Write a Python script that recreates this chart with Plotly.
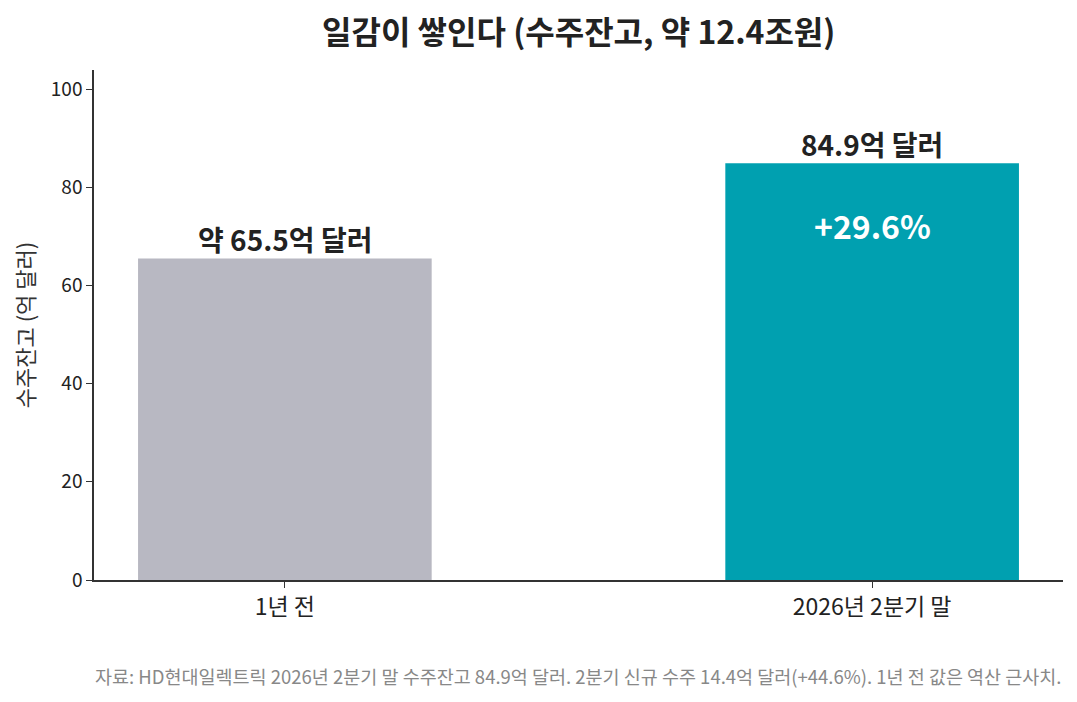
import plotly.graph_objects as go

categories = ["1년 전", "2026년 2분기 말"]
backlog = [65.5, 84.9]
bar_labels = ["약 65.5억 달러", "84.9억 달러"]
growth_label = "+29.6%"
y_ticks = [0, 20, 40, 60, 80, 100]

title = "일감이 쌓인다 (수주잔고, 약 12.4조원)"
y_title = "수주잔고 (억 달러)"
source = "자료: HD현대일렉트릭 2026년 2분기 말 수주잔고 84.9억 달러. 2분기 신규 수주 14.4억 달러(+44.6%). 1년 전 값은 역산 근사치."

FONT = "Noto Sans CJK KR"

fig = go.Figure()

fig.add_trace(
    go.Bar(
        x=categories,
        y=backlog,
        width=0.5,
        marker=dict(color=["#b8b8c2", "#00a0b0"], line=dict(width=0)),
        hoverinfo="skip",
    )
)

# value labels just above each bar
for cat, val, lab in zip(categories, backlog, bar_labels):
    fig.add_annotation(
        x=cat,
        y=val,
        yanchor="bottom",
        yshift=-3,
        text=f"<b>{lab}</b>",
        showarrow=False,
        font=dict(family=FONT, size=28, color="#222222"),
    )

# growth label inside the latest bar
fig.add_annotation(
    x=categories[1],
    y=backlog[1] - 12.6,
    text=f"<b>{growth_label}</b>",
    showarrow=False,
    font=dict(family=FONT, size=32, color="white"),
)

# title, centred over the plot area
fig.add_annotation(
    x=0.5,
    y=1.0,
    xref="paper",
    yref="paper",
    xanchor="center",
    yanchor="middle",
    yshift=40,
    text=f"<b>{title}</b>",
    showarrow=False,
    font=dict(family=FONT, size=32, color="#222222"),
)

fig.add_annotation(
    x=1.0,
    y=-0.188,
    xref="paper",
    yref="paper",
    xanchor="right",
    yanchor="middle",
    text=source,
    showarrow=False,
    font=dict(family=FONT, size=18.5, color="#888888"),
)

fig.update_layout(
    width=1077,
    height=702,
    margin=dict(l=86, r=22, t=62, b=130),
    paper_bgcolor="white",
    plot_bgcolor="white",
    showlegend=False,
    font=dict(family=FONT, color="#222222"),
)

fig.update_xaxes(
    range=[-0.325, 1.325],
    showline=True,
    linecolor="#333333",
    linewidth=1.5,
    ticks="outside",
    ticklen=6,
    tickcolor="#333333",
    tickfont=dict(family=FONT, size=23, color="#222222"),
    showgrid=False,
)

fig.update_yaxes(
    range=[0, 103.9],
    tickvals=y_ticks,
    showline=True,
    linecolor="#333333",
    linewidth=1.5,
    ticks="outside",
    ticklen=6,
    tickcolor="#333333",
    tickfont=dict(family=FONT, size=19, color="#222222"),
    showgrid=False,
    zeroline=False,
    title=dict(text=y_title, font=dict(family=FONT, size=22, color="#333333"), standoff=14),
)

fig.write_html("out.html")
